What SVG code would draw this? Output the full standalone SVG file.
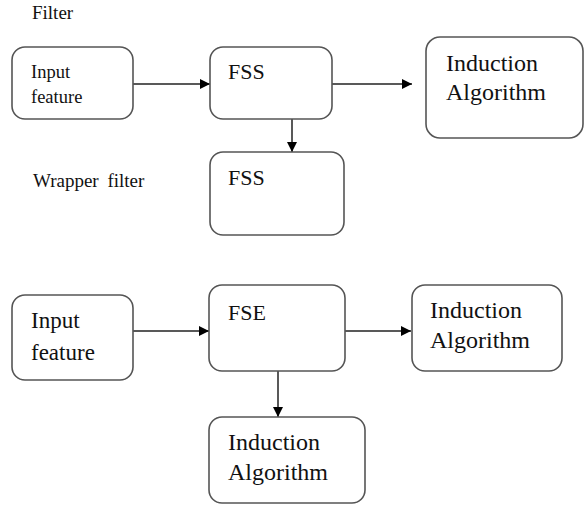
<svg xmlns="http://www.w3.org/2000/svg" width="584" height="506" viewBox="0 0 584 506">
<style>
.box{fill:#fff;stroke:#555;stroke-width:1.6}
.t{fill:#111}
.edge{stroke:#222;stroke-width:1.5;fill:none;marker-end:url(#ah)}
</style>
<defs>
<marker id="ah" viewBox="0 0 10 10" refX="10" refY="5" markerWidth="10" markerHeight="10" markerUnits="userSpaceOnUse" orient="auto">
<path d="M0,0 L10,5 L0,10 z" fill="#000"/>
</marker>
</defs>
<rect width="584" height="506" fill="#fff"/>
<g font-family="Liberation Serif, DejaVu Serif, serif">
<text class="t" x="32" y="19" font-size="19">Filter</text>
<text class="t" x="33" y="187" font-size="19" word-spacing="4">Wrapper filter</text>
<g id="edges">
<line class="edge" x1="133" y1="84" x2="210" y2="84"/>
<line class="edge" x1="332" y1="84" x2="412" y2="84"/>
<line class="edge" x1="292" y1="119" x2="292" y2="152"/>
<line class="edge" x1="133" y1="331" x2="209" y2="331"/>
<line class="edge" x1="345" y1="331" x2="411" y2="331"/>
<line class="edge" x1="278" y1="371" x2="278" y2="417"/>
</g>
<g id="input1">
<rect class="box" x="12" y="47" width="121" height="72" rx="13"/>
<text class="t" x="31" y="78" font-size="18.5">Input</text>
<text class="t" x="31" y="103" font-size="18.5">feature</text>
</g>
<g id="fss1">
<rect class="box" x="210" y="47" width="122" height="72" rx="13"/>
<text class="t" x="228" y="79" font-size="22">FSS</text>
</g>
<g id="induction1">
<rect class="box" x="426" y="37" width="157" height="101" rx="14"/>
<text class="t" x="446" y="71" font-size="24">Induction</text>
<text class="t" x="446" y="100" font-size="24">Algorithm</text>
</g>
<g id="fss2">
<rect class="box" x="210" y="152" width="134" height="83" rx="13"/>
<text class="t" x="228" y="185" font-size="22">FSS</text>
</g>
<g id="input2">
<rect class="box" x="12" y="295" width="121" height="85" rx="13"/>
<text class="t" x="31" y="328" font-size="23">Input</text>
<text class="t" x="31" y="360" font-size="23">feature</text>
</g>
<g id="fse">
<rect class="box" x="209" y="285" width="136" height="86" rx="13"/>
<text class="t" x="228" y="320" font-size="22">FSE</text>
</g>
<g id="induction2">
<rect class="box" x="412" y="285" width="150" height="86" rx="13"/>
<text class="t" x="430" y="318" font-size="24">Induction</text>
<text class="t" x="430" y="348" font-size="24">Algorithm</text>
</g>
<g id="induction3">
<rect class="box" x="209" y="417" width="156" height="86" rx="13"/>
<text class="t" x="228" y="450" font-size="24">Induction</text>
<text class="t" x="228" y="480" font-size="24">Algorithm</text>
</g>
</g>
</svg>
